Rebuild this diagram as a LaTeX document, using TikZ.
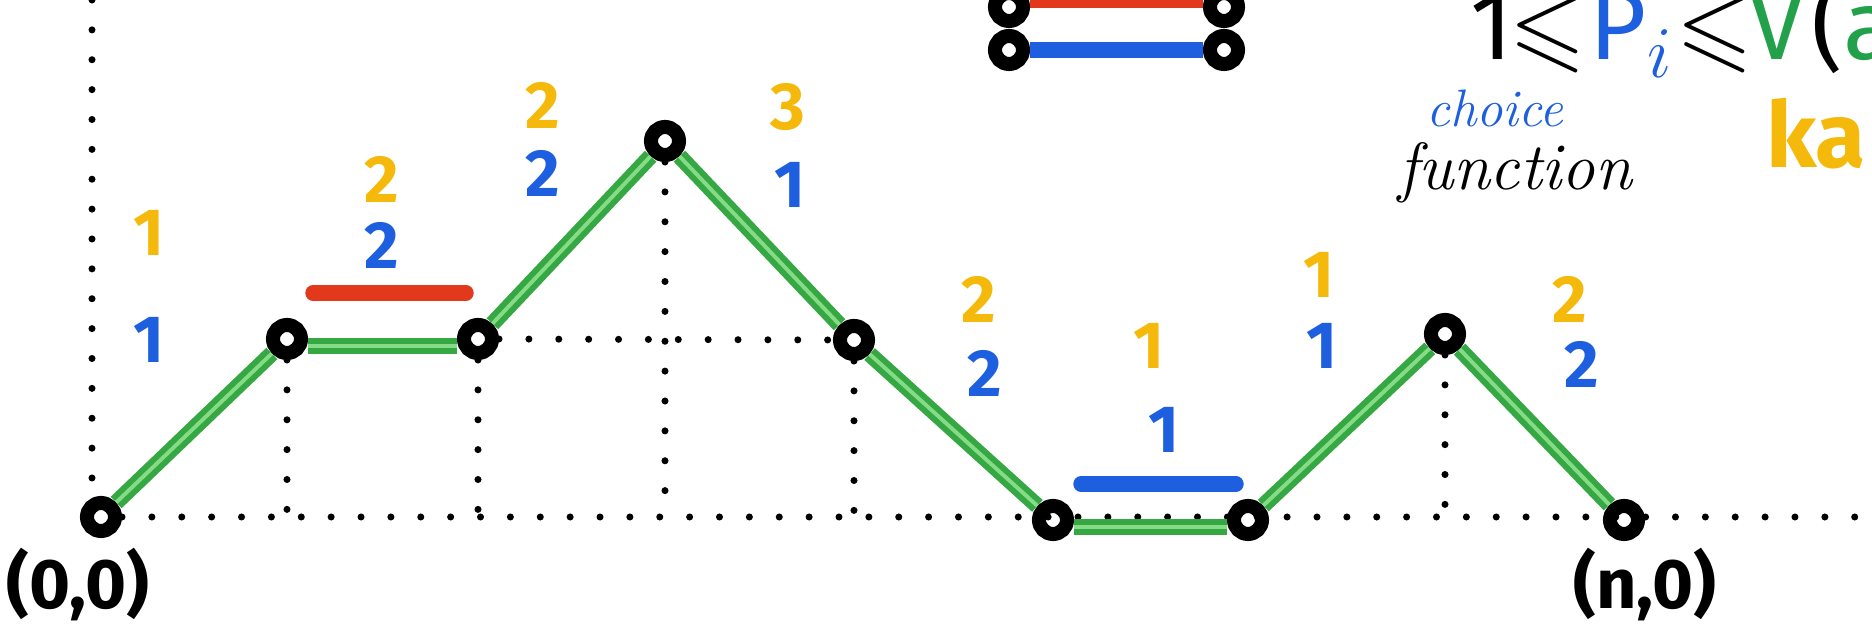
\documentclass[tikz,border=0pt]{standalone}
\usepackage{amssymb}
\usepackage{fontspec}
\newfontfamily\markerfont{Fira Sans}
\usetikzlibrary{positioning}

\definecolor{pathgreen}{HTML}{36A843}
\definecolor{pathlight}{HTML}{86DB86}
\definecolor{markyellow}{HTML}{F4B90A}
\definecolor{markblue}{HTML}{1E5FE0}
\definecolor{markred}{HTML}{E2381B}
\definecolor{inkgreen}{HTML}{23A14A}

\begin{document}
\begin{tikzpicture}[x=1cm, y=-1cm,
    vertex/.style={circle, draw=black, fill=white, line width=4pt, minimum size=0.28cm, inner sep=0pt},
    stepline/.style={draw=pathgreen, line width=1.7pt, double=pathlight, double distance=1.1pt},
    guide/.style={line width=2pt, line cap=round, dash pattern=on 0pt off 8.5pt},
    bar/.style={line width=4.4pt, line cap=round},
    up/.style={text=markyellow, font=\markerfont\bfseries\fontsize{19}{21}\selectfont},
    dn/.style={text=markblue, font=\markerfont\bfseries\fontsize{19}{21}\selectfont},
    corner/.style={font=\markerfont\bfseries\fontsize{20}{22}\selectfont}]

    \useasboundingbox (0,0) rectangle (18.72,6.42);

    % axes
    \coordinate (ytop) at (0.92,0);
    \coordinate (ybot) at (0.92,4.95);
    \coordinate (xaxis) at (0,5.17);
    \coordinate (xend) at (18.72,5.17);

    % lattice path
    \node[vertex] (O) at (1.01,5.17) {};
    \node[vertex] (A) at (2.87,3.39) {};
    \node[vertex] (B) at (4.78,3.39) {};
    \node[vertex] (C) at (6.65,1.41) {};
    \node[vertex] (D) at (8.54,3.40) {};
    \node[vertex] (E) at (10.53,5.20) {};
    \node[vertex] (F) at (12.48,5.20) {};
    \node[vertex] (G) at (14.45,3.34) {};
    \node[vertex] (H) at (16.24,5.20) {};

    \draw[guide] (ytop) -- (ybot);
    \draw[guide] (O.east) -- (xend);
    \draw[guide] (A.south) -- (A |- xaxis);
    \draw[guide] (B.south) -- (B |- xaxis);
    \draw[guide] (C.south) -- (C |- xaxis);
    \draw[guide] (D.south) -- (D |- xaxis);
    \draw[guide] (G.south) -- (G |- xaxis);
    \draw[guide] (B.east) -- (D.west);

    \draw[stepline] (O) -- (A);
    \draw[stepline] ([yshift=-2pt]A.east) -- ([yshift=-2pt]B.west);
    \draw[stepline] (B) -- (C);
    \draw[stepline] (C) -- (D);
    \draw[stepline] (D) -- (E);
    \draw[stepline] ([yshift=-2pt]E.east) -- ([yshift=-2pt]F.west);
    \draw[stepline] (F) -- (G);
    \draw[stepline] (G) -- (H);

    % flat steps marked
    \coordinate (redL) at (3.13,2.93);
    \coordinate (redR) at (4.66,2.93);
    \coordinate (blueL) at (10.81,4.84);
    \coordinate (blueR) at (12.36,4.84);
    \draw[bar, markred] (redL) -- (redR);
    \draw[bar, markblue] (blueL) -- (blueR);

    % step labels
    \node[up] (y1) at (1.49,2.33) {1};
    \node[dn] (b1) at (1.49,3.40) {1};
    \node[up] (y2) at (3.82,1.79) {2};
    \node[dn] (b2) at (3.82,2.45) {2};
    \node[up] (y3) at (5.43,1.05) {2};
    \node[dn] (b3) at (5.43,1.73) {2};
    \node[up] (y4) at (7.88,1.07) {3};
    \node[dn] (b4) at (7.90,1.85) {1};
    \node[up] (y5) at (9.79,2.99) {2};
    \node[dn] (b5) at (9.85,3.73) {2};
    \node[up] (y6) at (11.49,3.46) {1};
    \node[dn] (b6) at (11.64,4.30) {1};
    \node[up] (y7) at (13.19,2.75) {1};
    \node[dn] (b7) at (13.22,3.46) {1};
    \node[up] (y8) at (15.70,2.99) {2};
    \node[dn] (b8) at (15.82,3.64) {2};

    \node[corner] (origin) at (0.78,5.85) {(0,0)};
    \node[corner] (endpt) at (16.45,5.85) {(n,0)};

    % legend
    \node[vertex] (L1) at (10.09,0.07) {};
    \node[vertex] (L2) at (12.24,0.07) {};
    \node[vertex] (L3) at (10.09,0.50) {};
    \node[vertex] (L4) at (12.24,0.50) {};
    \draw[bar, markred, line cap=butt] ([yshift=2pt]L1.east) -- ([yshift=2pt]L2.west);
    \draw[bar, markblue, line cap=butt] (L3) -- (L4);

    % top right notes
    \node[anchor=base west, inner sep=0pt, font=\markerfont\fontsize{28}{30}\selectfont] (bound) at (14.70,0.60)
        {1\kern-1pt$\leqslant$\kern1pt\textcolor{markblue}{P$_i$}\kern1pt$\leqslant$\kern-1pt\textcolor{inkgreen}{V}\kern2pt(\textcolor{inkgreen}{a}};
    \node[anchor=base, inner sep=0pt, text=markblue, font=\itshape\fontsize{15}{17}\selectfont] (choice) at (14.95,1.27) {choice};
    \node[anchor=base, inner sep=0pt, font=\itshape\fontsize{19}{21}\selectfont] (func) at (15.15,1.90) {function};
    \node[anchor=base west, inner sep=0pt, text=markyellow, font=\markerfont\bfseries\fontsize{26}{28}\selectfont] (ka) at (17.66,1.68) {ka};

\end{tikzpicture}
\end{document}
